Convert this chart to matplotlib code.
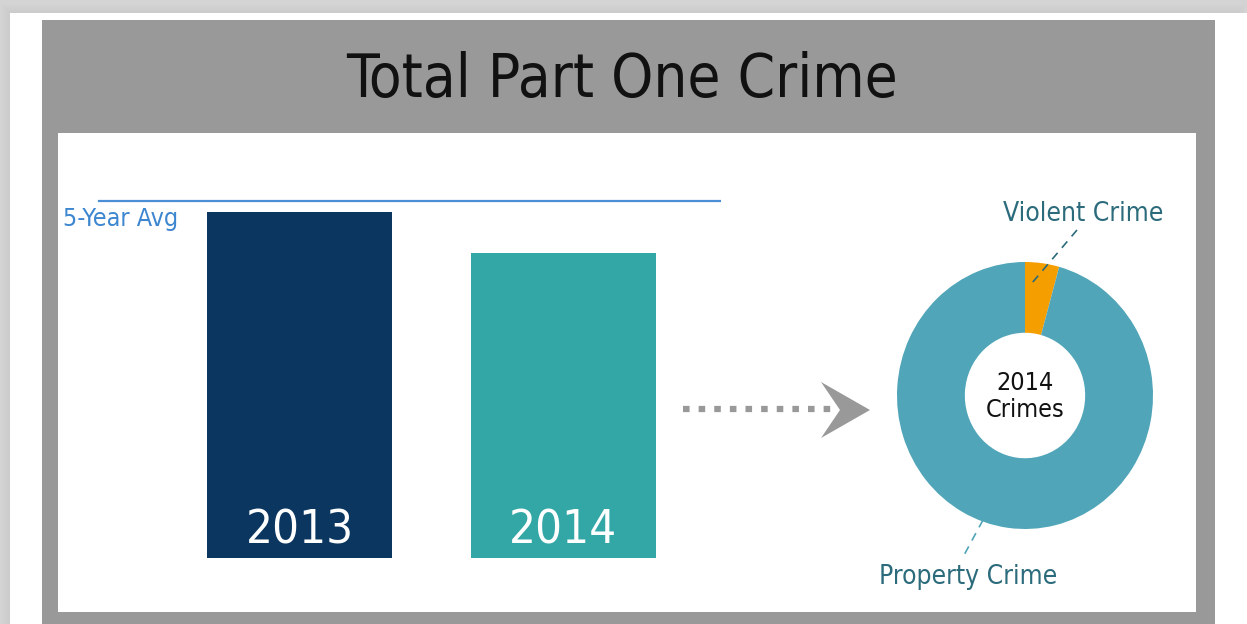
import numpy as np
import matplotlib
matplotlib.use("Agg")
import matplotlib.pyplot as plt
from matplotlib.patches import Rectangle, Polygon

W, H = 1247, 624

# data
years = ["2013", "2014"]
totals = [3460, 3050]
five_year_avg = 3570
crime_types = ["Violent Crime", "Property Crime"]
crime_share = [4.3, 95.7]

bar_colors = ["#0a3660", "#33a6a6"]
pie_colors = ["#f59e00", "#50a5b8"]
FONT = dict(family="DejaVu Sans", stretch="condensed")

fig = plt.figure(figsize=(W / 100, H / 100), dpi=100, facecolor="white")


def fx(px):
    return px / W


def fy(py):
    return 1 - py / H


def pixel_axes():
    a = fig.add_axes([0, 0, 1, 1])
    a.set_xlim(0, W)
    a.set_ylim(H, 0)
    a.axis("off")
    return a


# background layer in pixel coordinates
bg = pixel_axes()
bg.add_patch(Rectangle((0, 0), W, H, color="#d4d4d4", zorder=0))
# soft shadow around the card
for i in range(10):
    bg.add_patch(Rectangle((10 - i, 13 - i), 1227 + 2 * i, 700, color="#c8c8c8",
                           alpha=0.08, lw=0, zorder=1))
bg.add_patch(Rectangle((10, 13), 1237, 700, color="white", lw=0, zorder=2))
bg.add_patch(Rectangle((42, 20), 1173, 700, color="#999999", lw=0, zorder=3))
bg.add_patch(Rectangle((58, 133), 1138, 479, color="white", lw=0, zorder=4))
bg.text(622, 97, "Total Part One Crime", ha="center", va="baseline",
        fontsize=43, color="#111111", zorder=5, **FONT)

# dotted arrow between bars and donut
bg.plot([683, 838], [409, 409], color="#999999", lw=4.5, ls=(0, (1.05, 1.45)),
        solid_capstyle="butt", zorder=5)
bg.add_patch(Polygon([[821, 382], [870, 410], [821, 438], [840, 410]],
                     closed=True, color="#999999", lw=0, zorder=5))

# bar chart
ax = fig.add_axes([fx(58), fy(558), fx(721 - 58), fy(133) - fy(558)])
x = np.arange(len(years))
ax.bar(x, totals, width=0.7, color=bar_colors, zorder=2)
ax.set_xlim(-0.915, 1.597)
ax.set_ylim(0, 4250)
ax.axhline(five_year_avg, xmin=0.062, xmax=1, color="#4a8fd6", lw=1.6, zorder=3)
ax.text(-0.895, five_year_avg - 60, "5-Year Avg", ha="left", va="top",
        fontsize=18, color="#3d86d0", zorder=4, **FONT)
for xi, lab in zip(x, years):
    ax.text(xi, 150, lab, ha="center", va="baseline", fontsize=34,
            color="white", zorder=4, **FONT)
ax.axis("off")

# donut chart
pax = fig.add_axes([fx(897), fy(529), fx(1153 - 897), fy(262) - fy(529)])
wedges, _ = pax.pie(crime_share, colors=pie_colors, startangle=90,
                    counterclock=False, radius=1,
                    wedgeprops=dict(width=0.53, linewidth=0))
pax.set_aspect("auto")
pax.set_xlim(-1, 1)
pax.set_ylim(-1, 1)
pax.text(0, -0.01, "2014\nCrimes", ha="center", va="center", fontsize=18,
         color="#111111", linespacing=1.15, **FONT)

# labels with dashed leaders, drawn on top of the donut
top = pixel_axes()
top.plot([1077, 1032], [230, 283], color="#2b6b7b", lw=1.2, ls=(0, (5, 4)))
top.text(1083, 221, crime_types[0], ha="center", va="baseline", fontsize=19,
         color="#2b6b7b", **FONT)
top.plot([983, 963], [520, 557], color="#50a5b8", lw=1.2, ls=(0, (5, 4)))
top.text(968, 584, crime_types[1], ha="center", va="baseline", fontsize=19,
         color="#2b6b7b", **FONT)

fig.savefig("out.png", dpi=100, facecolor=fig.get_facecolor())
